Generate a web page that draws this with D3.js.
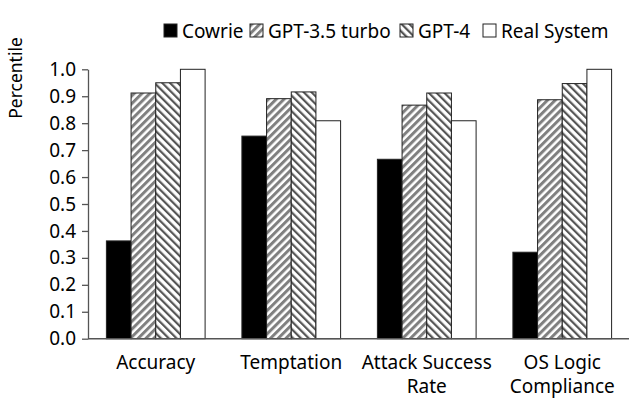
<!DOCTYPE html>
<html>
<head>
<meta charset="utf-8">
<script src="https://cdn.jsdelivr.net/npm/d3@7"></script>
<style>
  body { margin: 0; background: #fff; }
  text { font-family: "Noto Sans", "Open Sans", sans-serif; fill: #000; }
</style>
</head>
<body>
<svg id="chart" width="629" height="410"></svg>
<script>
const categories = [["Accuracy"], ["Temptation"], ["Attack Success", "Rate"], ["OS Logic", "Compliance"]];
const seriesNames = ["Cowrie", "GPT-3.5 turbo", "GPT-4", "Real System"];
const cowrie = [0.363, 0.752, 0.666, 0.321];
const gpt35 = [0.912, 0.891, 0.867, 0.887];
const gpt4 = [0.950, 0.916, 0.912, 0.947];
const realSystem = [1.0, 0.809, 0.809, 1.0];
const yTicks = [0, 0.1, 0.2, 0.3, 0.4, 0.5, 0.6, 0.7, 0.8, 0.9, 1.0];

const seriesValues = [cowrie, gpt35, gpt4, realSystem];
const fills = ["#000", "url(#hatch35)", "url(#hatch4)", "#fff"];

const svg = d3.select("#chart");
const plotLeft = 88, plotRight = 630, plotTop = 69.3, plotBottom = 338.7;

// patterns
const defs = svg.append("defs");
const p1 = defs.append("pattern").attr("id", "hatch35")
    .attr("patternUnits", "userSpaceOnUse").attr("width", 5.5).attr("height", 5.5)
    .attr("patternTransform", "rotate(45)");
p1.append("rect").attr("width", 5.5).attr("height", 5.5).attr("fill", "#fff");
p1.append("rect").attr("width", 3).attr("height", 5.5).attr("fill", "#808080");
const p2 = defs.append("pattern").attr("id", "hatch4")
    .attr("patternUnits", "userSpaceOnUse").attr("width", 5.5).attr("height", 5.5)
    .attr("patternTransform", "rotate(-45)");
p2.append("rect").attr("width", 5.5).attr("height", 5.5).attr("fill", "#fff");
p2.append("rect").attr("width", 2.2).attr("height", 5.5).attr("fill", "#555");

const x = d3.scaleBand().domain(d3.range(categories.length)).range([plotLeft, plotRight]).padding(0);
const groupW = 98.7;
const xs = d3.scaleBand().domain(d3.range(seriesNames.length))
    .range([(x.bandwidth() - groupW) / 2, (x.bandwidth() + groupW) / 2]);
const y = d3.scaleLinear().domain([0, 1]).range([plotBottom, plotTop]);

// bars
seriesValues.forEach((vals, s) => {
    svg.append("g").selectAll("rect")
        .data(vals)
        .enter().append("rect")
        .attr("x", (d, i) => x(i) + xs(s))
        .attr("y", d => y(d))
        .attr("width", xs.bandwidth())
        .attr("height", d => plotBottom - y(d))
        .attr("fill", fills[s])
        .attr("stroke", "#222")
        .attr("stroke-width", 1);
});

// y axis
const yAxis = svg.append("g")
    .attr("transform", "translate(" + plotLeft + ",0)")
    .call(d3.axisLeft(y).tickValues(yTicks).tickFormat(d3.format(".1f")).tickSize(6).tickSizeOuter(0));
yAxis.selectAll("line, path").attr("stroke", "#555").attr("stroke-width", 1.3);
yAxis.selectAll("text").attr("font-size", 19).attr("font-family", "Noto Sans").attr("x", -12).attr("fill", "#000");

// x axis line
svg.append("line")
    .attr("x1", plotLeft).attr("x2", 629)
    .attr("y1", plotBottom).attr("y2", plotBottom)
    .attr("stroke", "#555").attr("stroke-width", 1.5);

// category labels (one text per line)
categories.forEach((lines, i) => {
    svg.append("g").selectAll("text")
        .data(lines)
        .enter().append("text")
        .attr("text-anchor", "middle")
        .attr("font-size", 19)
        .attr("x", x(i) + x.bandwidth() / 2)
        .attr("y", (d, j) => 369 + j * 24)
        .text(d => d);
});

// y label
svg.append("text")
    .attr("transform", "translate(22,78) rotate(-90)")
    .attr("text-anchor", "middle")
    .attr("font-size", 17.5)
    .text("Percentile");

// legend
const legendX = [164, 250, 400, 483];
const legend = svg.append("g").selectAll("g")
    .data(seriesNames)
    .enter().append("g")
    .attr("transform", (d, i) => "translate(" + legendX[i] + ",24)");
legend.append("rect")
    .attr("width", 13).attr("height", 13)
    .attr("fill", (d, i) => fills[i])
    .attr("stroke", "#222").attr("stroke-width", 1);
legend.append("text")
    .attr("x", 18).attr("y", 13.5)
    .attr("font-size", 19)
    .text(d => d);
</script>
</body>
</html>
